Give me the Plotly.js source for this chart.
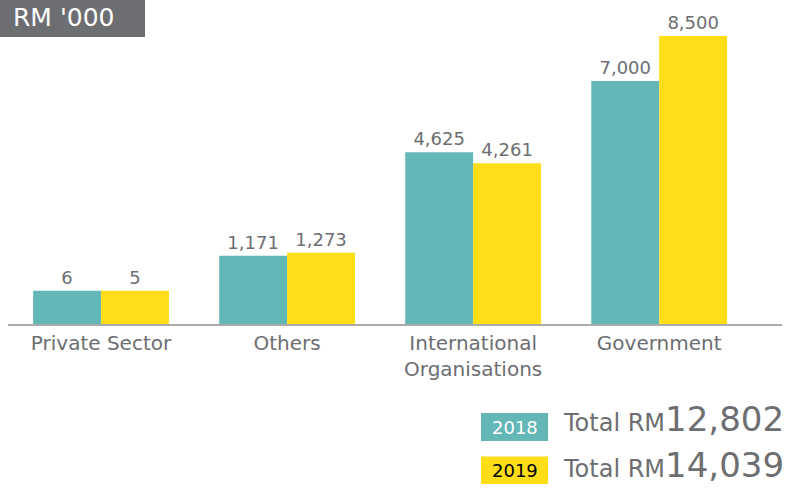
<!DOCTYPE html>
<html>
<head>
<meta charset="utf-8">
<script src="https://cdn.plot.ly/plotly-3.0.1.min.js"></script>
<style>html,body{margin:0;padding:0;background:#fff;}#chart{width:787px;height:488px;}</style>
</head>
<body>
<div id="chart"></div>
<script>
// ---- data ----
const categories = ["Private Sector", "Others", "International<br>Organisations", "Government"];
const values2018 = [6, 1171, 4625, 7000];
const values2019 = [5, 1273, 4261, 8500];
const seriesNames = ["2018", "2019"];
const unitLabel = "RM '000";

// ---- style ----
const TEAL = "#63b7b7";
const YELLOW = "#ffdd17";
const GREY_TXT = "#6d6e71";
const FONT = "DejaVu Sans, sans-serif";
const AXIS_FLOOR = -1100;   // value axis starts below zero (as in the original graphic)

const W = 787, H = 488;
const L = 8, R = 5, T = 6, B = 164;
const PW = W - L - R, PH = H - T - B;
const px = x => (x - L) / PW;
const py = y => (H - B - y) / PH;

const fmt = v => v.toLocaleString("en-US");
const sum = a => a.reduce((s, v) => s + v, 0);

function barTrace(vals, name, color) {
  return {
    type: "bar",
    name: name,
    x: categories,
    y: vals.map(v => v - AXIS_FLOOR),
    base: AXIS_FLOOR,
    marker: {color: color, line: {width: 0}},
    text: vals.map(fmt),
    textposition: "outside",
    textfont: {family: FONT, size: 18, color: GREY_TXT},
    cliponaxis: false,
    hoverinfo: "skip"
  };
}

const data = [
  barTrace(values2018, seriesNames[0], TEAL),
  barTrace(values2019, seriesNames[1], YELLOW)
];

const layout = {
  width: W, height: H,
  margin: {l: L, r: R, t: T, b: B, pad: 0},
  paper_bgcolor: "#fff", plot_bgcolor: "#fff",
  showlegend: false,
  barmode: "group",
  bargap: 0.27,
  bargroupgap: 0,
  font: {family: FONT, color: GREY_TXT},
  xaxis: {
    range: [-0.5, 3.66],
    showline: true, linecolor: "#aaaaaa", linewidth: 1.5,
    showgrid: false, zeroline: false, ticks: "",
    tickfont: {family: FONT, size: 20, color: GREY_TXT}
  },
  yaxis: {
    range: [AXIS_FLOOR, 9500],
    visible: false, showgrid: false, zeroline: false, fixedrange: true
  },
  shapes: [
    {type: "rect", xref: "paper", yref: "paper", x0: px(0), x1: px(145), y0: py(37), y1: py(-2),
     fillcolor: "#6d6e71", line: {width: 0}, layer: "above"},
    {type: "rect", xref: "paper", yref: "paper", x0: px(481), x1: px(548), y0: py(441), y1: py(413),
     fillcolor: TEAL, line: {width: 0}},
    {type: "rect", xref: "paper", yref: "paper", x0: px(481), x1: px(548), y0: py(484), y1: py(456.5),
     fillcolor: YELLOW, line: {width: 0}}
  ],
  annotations: [
    {xref: "paper", yref: "paper", x: px(11), y: py(17), xanchor: "left", yanchor: "middle",
     text: unitLabel, showarrow: false, font: {family: FONT, size: 25, color: "#ffffff"}},
    {xref: "paper", yref: "paper", x: px(514.5), y: py(427.5), xanchor: "center", yanchor: "middle",
     text: seriesNames[0], showarrow: false, font: {family: FONT, size: 18, color: "#ffffff"}},
    {xref: "paper", yref: "paper", x: px(514.5), y: py(470.5), xanchor: "center", yanchor: "middle",
     text: seriesNames[1], showarrow: false, font: {family: FONT, size: 18, color: "#000000"}},
    {xref: "paper", yref: "paper", x: px(786), y: py(441), xanchor: "right", yanchor: "bottom",
     text: "Total RM<span style='font-size:34px'>" + fmt(sum(values2018)) + "</span>",
     showarrow: false, font: {family: FONT, size: 24, color: GREY_TXT}},
    {xref: "paper", yref: "paper", x: px(786), y: py(487), xanchor: "right", yanchor: "bottom",
     text: "Total RM<span style='font-size:34px'>" + fmt(sum(values2019)) + "</span>",
     showarrow: false, font: {family: FONT, size: 24, color: GREY_TXT}}
  ]
};

Plotly.newPlot("chart", data, layout, {displayModeBar: false, staticPlot: true});
</script>
</body>
</html>
